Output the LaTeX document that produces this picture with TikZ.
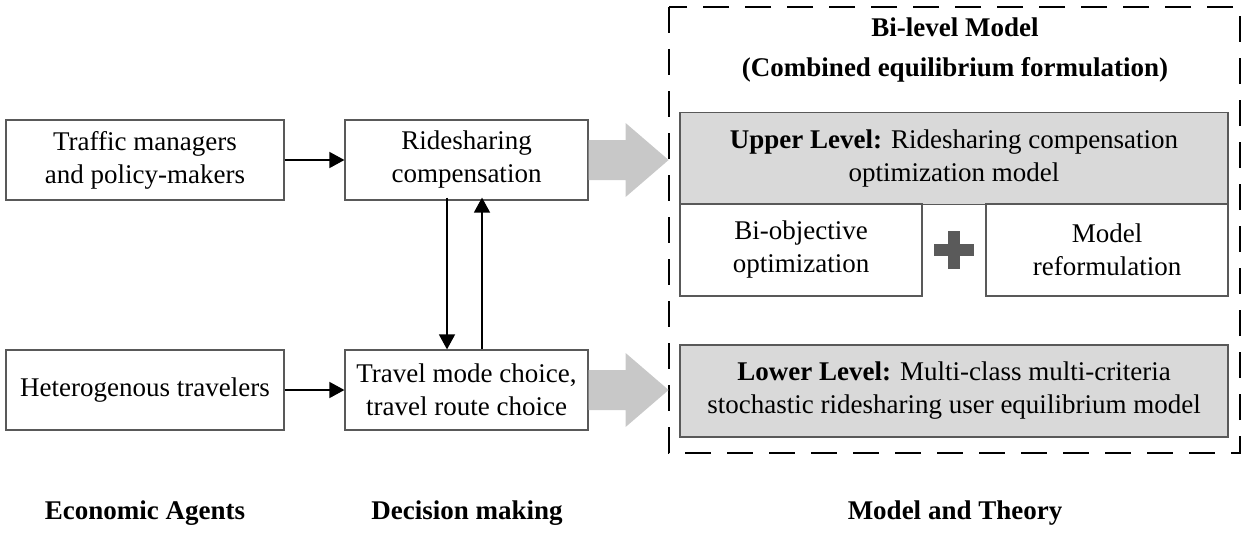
\documentclass[tikz,border=0pt]{standalone}
\usepackage{fontspec}
\setmainfont{Liberation Serif}
\usetikzlibrary{arrows.meta,calc}

\definecolor{boxline}{HTML}{595959}
\definecolor{levelfill}{HTML}{D9D9D9}
\definecolor{flowgray}{HTML}{C8C8C8}
\definecolor{plusgray}{HTML}{5A5A5A}

\tikzset{
  txt/.style={font=\fontsize{27}{33}\selectfont, align=center},
  agentbox/.style={txt, draw=boxline, line width=1.2pt, fill=white,
    minimum height=80pt, inner sep=0pt},
  levelbox/.style={txt, draw=boxline, line width=1.2pt, fill=levelfill,
    minimum width=548pt, minimum height=92pt, inner sep=0pt},
  partbox/.style={txt, draw=boxline, line width=1.2pt, fill=white,
    minimum width=242pt, minimum height=92pt, inner sep=0pt},
  link/.style={line width=1.5pt, -{Triangle[length=15pt,width=16pt]}},
  flow/.style={fill=flowgray, draw=none},
  frame/.style={draw=black, line width=2pt, dash pattern=on 26pt off 16pt},
  plussign/.style={draw=plusgray, line width=12pt},
  caption/.style={font=\fontsize{27}{33}\selectfont\bfseries}
}

\begin{document}
\begin{tikzpicture}[x=1pt,y=-1pt]
\useasboundingbox (0,0) rectangle (1242,535);

% dashed frame of the bi-level model
\draw[frame] (669,7) rectangle (1240,453);

% actors and decisions
\node[agentbox, minimum width=278pt] (tm) at (145,160) {Traffic managers\\and policy-makers};
\node[agentbox, minimum width=243pt] (rc) at (466.5,160) {Ridesharing\\compensation};
\node[agentbox, minimum width=278pt] (ht) at (145,390) {Heterogenous travelers};
\node[agentbox, minimum width=243pt] (tc) at (466.5,390) {Travel mode choice,\\travel route choice};

% model title
\node[txt, font=\fontsize{27}{40}\selectfont\bfseries] (title) at (955,50)
  {Bi-level Model\\(Combined equilibrium formulation)};

% upper and lower levels
\node[levelbox] (up) at (954,158.5) {\textbf{Upper Level:} Ridesharing compensation\\optimization model};
\node[partbox] (bo) at (801,250) {Bi-objective\\optimization};
\node[partbox] (mr) at (1107,250) {Model\\reformulation};
\node[levelbox] (lo) at (954,391) {\textbf{Lower Level:} Multi-class multi-criteria\\stochastic ridesharing user equilibrium model};

% plus sign between the two parts
\coordinate (pc) at ($(bo.east)!0.5!(mr.west)$);
\draw[plussign] ([xshift=-20pt]pc) -- ([xshift=20pt]pc);
\draw[plussign] ([yshift=19pt]pc) -- ([yshift=-19pt]pc);

% connectors
\draw[link] (tm) -- (rc);
\draw[link] (ht) -- (tc);
\draw[link] ([xshift=-19.5pt,yshift=3pt]rc.south) -- ([xshift=-19.5pt]tc.north);
\draw[link] ([xshift=15.5pt]tc.north) -- ([xshift=15.5pt,yshift=3pt]rc.south);

% broad grey flows into the model
\fill[flow] ($(rc.east)+(0,-20)$) -- ++(37,0) -- ++(0,-17) -- ($(rc.east)+(80,0)$)
  -- ($(rc.east)+(37,37)$) -- ++(0,-17) -- ($(rc.east)+(0,20)$) -- cycle;
\fill[flow] ($(tc.east)+(0,-20)$) -- ++(37,0) -- ++(0,-17) -- ($(tc.east)+(80,0)$)
  -- ($(tc.east)+(37,37)$) -- ++(0,-17) -- ($(tc.east)+(0,20)$) -- cycle;

% column captions
\node[caption] (ca) at (145,513) {Economic Agents};
\node[caption] (cd) at (467,513) {Decision making};
\node[caption] (cm) at (955,513) {Model and Theory};
\end{tikzpicture}
\end{document}
